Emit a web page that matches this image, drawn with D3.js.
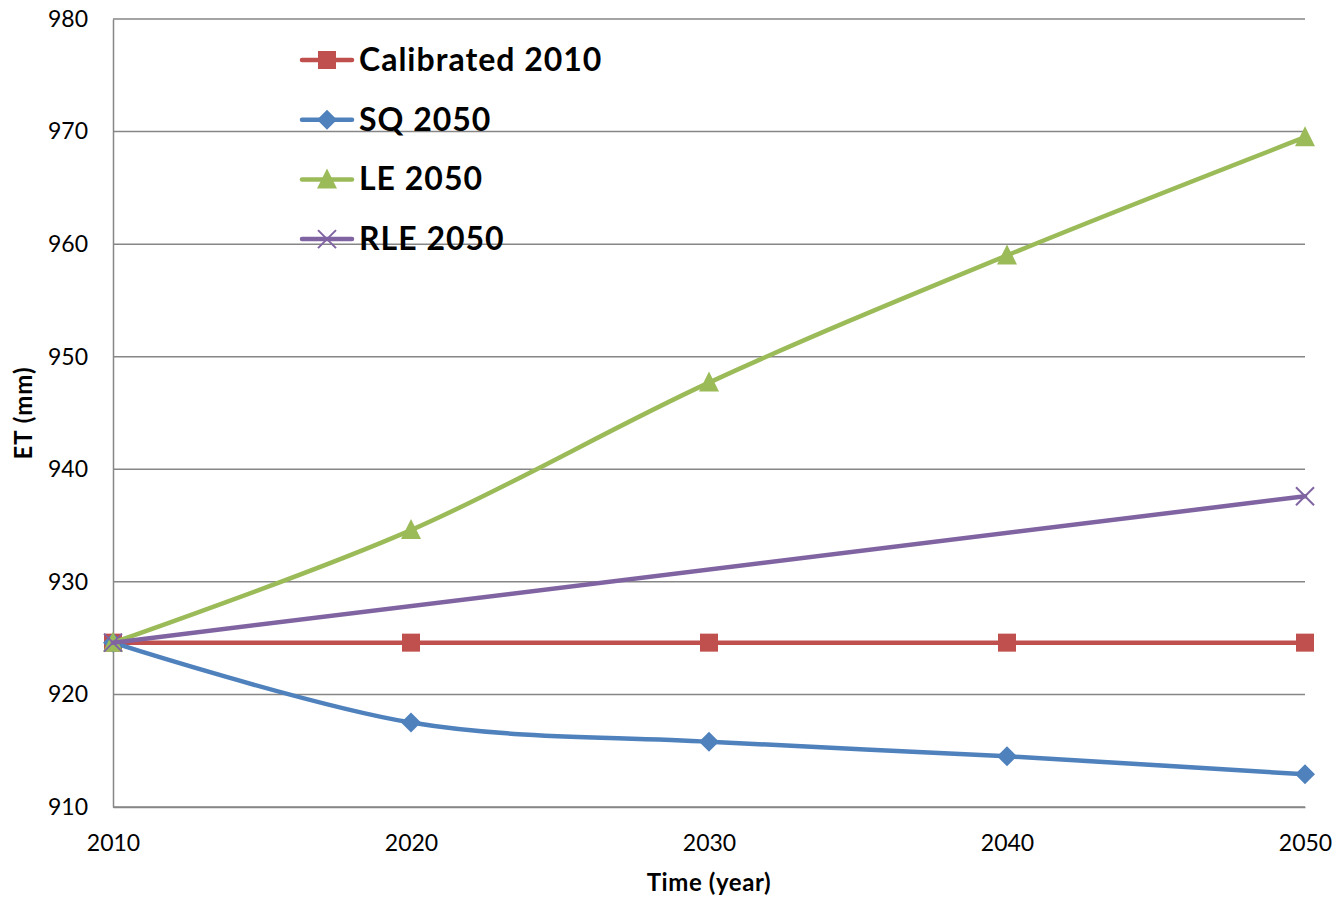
<!DOCTYPE html>
<html>
<head>
<meta charset="utf-8">
<script src="https://cdn.jsdelivr.net/npm/d3@7"></script>
<style>
  html, body { margin: 0; padding: 0; background: #fff; }
  svg { display: block; font-family: Lato, "Open Sans", "Liberation Sans", sans-serif; }
</style>
</head>
<body>
<svg id="chart" width="1337" height="899"></svg>
<script>
// Evapotranspiration projections, 2010–2050
const years = [2010, 2020, 2030, 2040, 2050];
const yTicks = [910, 920, 930, 940, 950, 960, 970, 980];

const calibrated2010 = [924.6, 924.6, 924.6, 924.6, 924.6];
const sq2050 = [924.6, 917.5, 915.8, 914.5, 912.9];
const le2050 = [924.6, 934.6, 947.7, 959.0, 969.5];
const rleYears = [2010, 2050];
const rle2050 = [924.6, 937.6];

const seriesNames = ["Calibrated 2010", "SQ 2050", "LE 2050", "RLE 2050"];

const series = [
  { name: seriesNames[0], xs: years, ys: calibrated2010, color: "#C0504D", marker: "square" },
  { name: seriesNames[1], xs: years, ys: sq2050, color: "#4F81BD", marker: "diamond" },
  { name: seriesNames[2], xs: years, ys: le2050, color: "#9BBB59", marker: "triangle" },
  { name: seriesNames[3], xs: rleYears, ys: rle2050, color: "#8064A2", marker: "cross" }
];

const svg = d3.select("#chart");
const plotLeft = 113, plotRight = 1305, plotTop = 19, plotBottom = 807;

const x = d3.scaleLinear().domain([2010, 2050]).range([plotLeft, plotRight]);
const y = d3.scaleLinear().domain([910, 980]).range([plotBottom, plotTop]);

// Horizontal gridlines
svg.append("g")
  .selectAll("line")
  .data(yTicks)
  .join("line")
  .attr("x1", plotLeft).attr("x2", plotRight)
  .attr("y1", d => y(d)).attr("y2", d => y(d))
  .attr("stroke", "#868686").attr("stroke-width", 1.5);

// Y axis
const yAxis = svg.append("g")
  .attr("transform", `translate(${plotLeft},0)`)
  .call(d3.axisLeft(y).tickValues(yTicks).tickSize(0).tickPadding(25).tickFormat(d3.format("d")));
yAxis.select(".domain").attr("stroke", "#868686").attr("stroke-width", 1.5);
yAxis.selectAll("text").attr("font-size", 23).attr("fill", "#000")
  .attr("font-family", "Lato, 'Open Sans', sans-serif");

// X axis
const xAxis = svg.append("g")
  .attr("transform", `translate(0,${plotBottom})`)
  .call(d3.axisBottom(x).tickValues(years).tickSize(0).tickPadding(28).tickFormat(d3.format("d")));
xAxis.select(".domain").attr("stroke", "#868686").attr("stroke-width", 1.5);
xAxis.selectAll("text").attr("font-size", 23).attr("fill", "#000")
  .attr("font-family", "Lato, 'Open Sans', sans-serif");

// Axis titles
svg.append("text")
  .attr("x", (plotLeft + plotRight) / 2).attr("y", 891)
  .attr("text-anchor", "middle")
  .attr("font-size", 24).attr("font-weight", "bold").attr("letter-spacing", 0.6)
  .text("Time (year)");

svg.append("text")
  .attr("transform", `translate(32,${(plotTop + plotBottom) / 2}) rotate(-90)`)
  .attr("text-anchor", "middle")
  .attr("font-size", 24).attr("font-weight", "bold").attr("letter-spacing", 1)
  .text("ET (mm)");

// Marker shapes
function drawMarker(g, kind, cx, cy, color) {
  if (kind === "square") {
    g.append("rect").attr("x", cx - 9).attr("y", cy - 9).attr("width", 18).attr("height", 18)
      .attr("fill", color);
  } else if (kind === "diamond") {
    g.append("path").attr("d", `M${cx},${cy - 10}L${cx + 10},${cy}L${cx},${cy + 10}L${cx - 10},${cy}Z`)
      .attr("fill", color);
  } else if (kind === "triangle") {
    g.append("path").attr("d", `M${cx},${cy - 11}L${cx + 10},${cy + 9}L${cx - 10},${cy + 9}Z`)
      .attr("fill", color);
  } else if (kind === "cross") {
    g.append("path").attr("d", `M${cx - 9},${cy - 9}L${cx + 9},${cy + 9}M${cx - 9},${cy + 9}L${cx + 9},${cy - 9}`)
      .attr("stroke", color).attr("stroke-width", 2).attr("fill", "none");
  }
}

const line = d3.line().curve(d3.curveCatmullRom.alpha(0));

// Series lines and markers
series.forEach(s => {
  const g = svg.append("g");
  const pts = s.xs.map((xv, i) => [x(xv), y(s.ys[i])]);
  g.append("path")
    .attr("d", line(pts))
    .attr("fill", "none")
    .attr("stroke", s.color)
    .attr("stroke-width", 4.5)
    .attr("stroke-linecap", "round");
  pts.forEach(p => drawMarker(g, s.marker, p[0], p[1], s.color));
});

// Legend
const legend = svg.append("g");
seriesNames.forEach((name, i) => {
  const s = series[i];
  const ly = 60 + i * 59.7;
  const g = legend.append("g");
  g.append("line").attr("x1", 302).attr("x2", 352).attr("y1", ly).attr("y2", ly)
    .attr("stroke", s.color).attr("stroke-width", 4.5).attr("stroke-linecap", "round");
  drawMarker(g, s.marker, 327, ly, s.color);
  g.append("text").attr("x", 359).attr("y", ly + 11)
    .attr("font-size", 32).attr("font-weight", "bold").attr("letter-spacing", 1).attr("fill", "#000")
    .text(name);
});
</script>
</body>
</html>
